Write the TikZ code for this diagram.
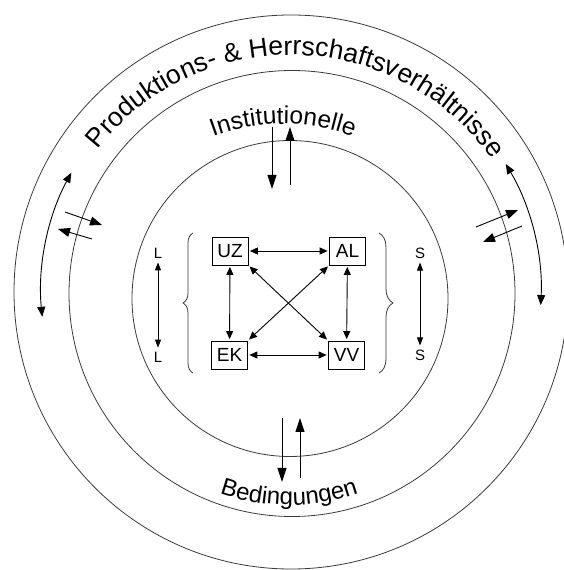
\documentclass[tikz,border=0pt]{standalone}
\usepackage{fontspec}
\setmainfont{Liberation Sans}
\usetikzlibrary{arrows.meta,decorations.text,decorations.pathreplacing}
\definecolor{kreisgrau}{HTML}{3A3A3A}
\newcommand\bogenschrift{\fontsize{26.5}{30}\selectfont}

\tikzset{
  kreis/.style={draw=kreisgrau, line width=0.8pt},
  kasten/.style={draw, line width=0.8pt, minimum width=36pt, minimum height=28pt, inner sep=0pt, font=\fontsize{19}{22}\selectfont},
  marke/.style={inner sep=2pt, font=\fontsize{15}{18}\selectfont},
  pfeil/.style={line width=0.9pt, shorten >=1.5pt, shorten <=1.5pt, {Triangle[length=8pt,width=7pt]}-{Triangle[length=8pt,width=7pt]}},
  kpfeil/.style={line width=0.9pt, shorten >=2pt, shorten <=2pt, {Triangle[length=8pt,width=6pt]}-{Triangle[length=8pt,width=6pt]}},
  bpfeil/.style={line width=0.9pt, {Triangle[length=10pt,width=8pt]}-{Triangle[length=10pt,width=8pt]}},
  einpfeil/.style={line width=0.9pt, -{Triangle[length=14pt,width=9pt]}},
  querpfeil/.style={line width=0.9pt, -{Triangle[length=12pt,width=9pt]}},
  klammer/.style={draw=kreisgrau, line width=0.8pt, decorate, decoration={brace, amplitude=#1}}
}

\begin{document}
\begin{tikzpicture}[x=1pt,y=1pt]
	\useasboundingbox (0,0) rectangle (564,570);
	% Kreise
	\draw[kreis] (291,278) circle (277pt);
	\draw[kreis] (292,276.5) circle (223pt);
	\draw[kreis] (290,271.5) circle (158pt);
	% Beschriftung der Ringe
	\path[decorate, decoration={text along path, text align=center,
		text={|\bogenschrift|Produktions- {\&} Herrschaftsverhältnisse}}]
		(291,270) ++(150:245pt) arc[start angle=150, end angle=27, radius=245pt];
	\path[decorate, decoration={text along path, text align=center,
		text={|\fontsize{24.5}{28}\selectfont|Institutionelle}}]
		(283,246) ++(115:200pt) arc[start angle=115, end angle=65, radius=200pt];
	\path[decorate, decoration={text along path, text align=center,
		text={|\fontsize{24}{28}\selectfont|Bedingungen}}]
		(289,275) ++(235:210pt) arc[start angle=235, end angle=305, radius=210pt];
	% Kaesten
	\node[kasten] (UZ) at (230,319) {UZ};
	\node[kasten] (AL) at (347.5,319) {AL};
	\node[kasten] (EK) at (229.5,215) {EK};
	\node[kasten] (VV) at (346.5,215) {VV};
	\draw[pfeil] (UZ) -- (AL);
	\draw[pfeil] (EK) -- (VV);
	\draw[pfeil] (UZ) -- (EK);
	\draw[pfeil] (AL) -- (VV);
	\draw[pfeil] (UZ.south east) -- (VV.north west);
	\draw[pfeil] (AL.south west) -- (EK.north east);
	% Klammern
	\draw[klammer=10pt] (193,197) -- (193,337);
	\draw[klammer=14pt] (379,337) -- (379,197);
	% L und S
	\node[marke] (L1) at (158,317) {L};
	\node[marke] (L2) at (158,213) {L};
	\node[marke] (S1) at (420,317) {S};
	\node[marke] (S2) at (420,215) {S};
	\draw[kpfeil] (L1) -- (L2);
	\draw[kpfeil] (S1) -- (S2);
	% senkrechte Pfeile oben und unten
	\coordinate (oa1) at (272,443);
	\coordinate (oe1) at (272,381);
	\coordinate (oa2) at (290,385);
	\coordinate (oe2) at (290,443);
	\draw[einpfeil] (oa1) -- (oe1);
	\draw[einpfeil] (oa2) -- (oe2);
	\coordinate (ua1) at (282,152);
	\coordinate (ue1) at (282,88);
	\coordinate (ua2) at (300,92);
	\coordinate (ue2) at (300,152);
	\draw[einpfeil] (ua1) -- (ue1);
	\draw[einpfeil] (ua2) -- (ue2);
	% Pfeile quer zum mittleren Ring
	\coordinate (la1) at (65,358);
	\coordinate (le1) at (102,345);
	\coordinate (la2) at (92,331);
	\coordinate (le2) at (58,341);
	\draw[querpfeil] (la1) -- (le1);
	\draw[querpfeil] (la2) -- (le2);
	\coordinate (ra1) at (476,343);
	\coordinate (re1) at (518,360);
	\coordinate (ra2) at (522,344);
	\coordinate (re2) at (483,328);
	\draw[querpfeil] (ra1) -- (re1);
	\draw[querpfeil] (ra2) -- (re2);
	% gebogene Pfeile im aeusseren Ring
	\coordinate (mitte) at (291,278);
	\draw[bpfeil] (mitte) ++(151.5:250pt) arc[start angle=151.5, end angle=185.7, radius=250pt];
	\draw[bpfeil] (mitte) ++(30.8:250pt) arc[start angle=30.8, end angle=-3, radius=250pt];
\end{tikzpicture}
\end{document}
